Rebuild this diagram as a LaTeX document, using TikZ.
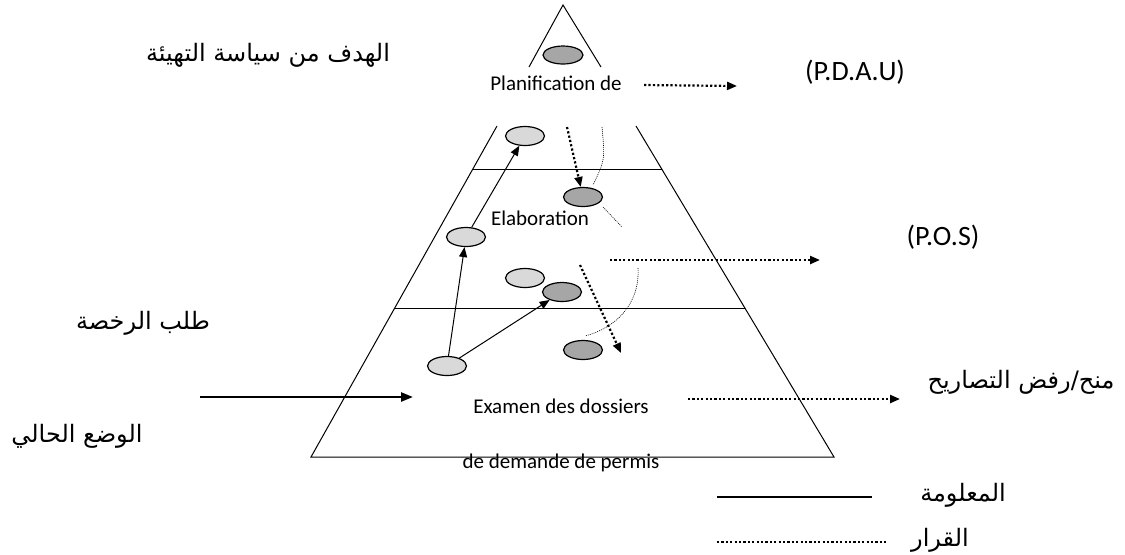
\documentclass[tikz,border=0pt]{standalone}
\usepackage{fontspec}
\setmainfont{Carlito}
\newfontfamily\arabicfont[Script=Arabic]{DejaVu Sans}
\TeXXeTstate=1
\usetikzlibrary{arrows.meta,shapes.geometric}
\tikzset{
	lightell/.style={ellipse, draw, line width=0.6pt, fill=gray!30, minimum width=19.5pt, minimum height=9.5pt, inner sep=0pt},
	darkell/.style={lightell, fill=gray!70},
	info/.style={line width=0.5pt, -{Triangle[length=5pt,width=4pt]}},
	decision/.style={line width=1.1pt, dash pattern=on 1.1pt off 1.1pt, -{Triangle[length=5pt,width=4pt]}},
	hint/.style={line width=0.3pt, dash pattern=on 0.5pt off 0.5pt},
	frlabel/.style={font=\fontsize{10.5}{12}\selectfont, inner sep=0pt},
	biglabel/.style={font=\fontsize{14}{16}\selectfont, inner sep=0pt},
	arlabel/.style={font=\arabicfont\fontsize{12}{14}\selectfont, inner sep=0pt},
}

\begin{document}
\begin{tikzpicture}[x=0.5pt, y=-0.5pt]
		%%%%% START %%%%%
		\useasboundingbox (0,0) rectangle (1125,554);
		
		% pyramid
		\draw[line width=0.5pt] (529,67) -- (563,5) -- (601,67);
		\draw[line width=0.5pt] (497,126) -- (311,457) -- (834,457) -- (636,126);
		\draw[line width=0.5pt] (472,169) -- (662,169);
		\draw[line width=0.5pt] (394,308) -- (745,308);
		
		% levels
		\node[frlabel] (plan) at (556,83) {Planification de};
		\node[frlabel] (elab) at (540,218) {Elaboration};
		\node[frlabel] (exam) at (561,406) {Examen des dossiers};
		\node[frlabel] (perm) at (561,463) {de demande de permis};
		
		% ellipses
		\node[darkell, minimum width=20pt, minimum height=9pt] (top) at (563,55) {};
		\node[lightell] (l1) at (525,136) {};
		\node[darkell] (d1) at (583,197) {};
		\node[lightell] (l2) at (466,237) {};
		\node[lightell] (l3) at (525,278) {};
		\node[darkell] (d2) at (562,292) {};
		\node[darkell] (d3) at (583,350) {};
		\node[lightell] (l4) at (447,366) {};
		
		\draw[info] (l4) -- (l2);
		\draw[info] (l2) -- (l1);
		\draw[info] (l4) -- (d2);
		
		% decisions going down
		\coordinate (s1) at (567,127);
		\coordinate (s2) at (580,265);
		\coordinate (e2) at (621,353);
		\draw[decision] (s1) -- (d1);
		\draw[decision] (s2) -- (e2);
		
		\draw[hint] (602,127) .. controls (605,160) .. (593,185);
		\draw[hint] (603,207) -- (622,227);
		\draw[hint] (638,268) .. controls (640,305) and (615,328) .. (585,336);
		
		% outputs
		\coordinate (o1) at (737,86);
		\coordinate (a2) at (610,260);
		\coordinate (o2) at (820,260);
		\coordinate (a3) at (688,399);
		\coordinate (o3) at (900,399);
		\draw[decision] (plan.east) ++(22,2) -- (o1);
		\draw[decision] (a2) -- (o2);
		\draw[decision] (a3) -- (o3);
		
		\node[biglabel] (pdau) at (855,72) {(P.D.A.U)};
		\node[biglabel] (pos) at (943,237) {(P.O.S)};
		\node[arlabel] (grant) at (1021,382) {\beginR منح/رفض التصاريح\endR};
		
		% inputs
		\node[arlabel] (goal) at (268,55) {\beginR الهدف من سياسة التهيئة\endR};
		\node[arlabel] (req) at (143,323) {\beginR طلب الرخصة\endR};
		\node[arlabel] (now) at (77,436) {\beginR الوضع الحالي\endR};
		\coordinate (i1) at (200,397);
		\coordinate (i2) at (413,397);
		\draw[line width=1.2pt, -{Triangle[length=6pt,width=4.5pt]}] (i1) -- (i2);
		
		% legend
		\draw[line width=1.3pt] (717,497) -- (872,497);
		\draw[line width=1.1pt, dash pattern=on 1.1pt off 1.1pt] (717,542) -- (888,542);
		\node[arlabel] (inf) at (963,495) {\beginR المعلومة\endR};
		\node[arlabel] (dec) at (940,540) {\beginR القرار\endR};
		
		%%%%% END %%%%%
\end{tikzpicture}
\end{document}
